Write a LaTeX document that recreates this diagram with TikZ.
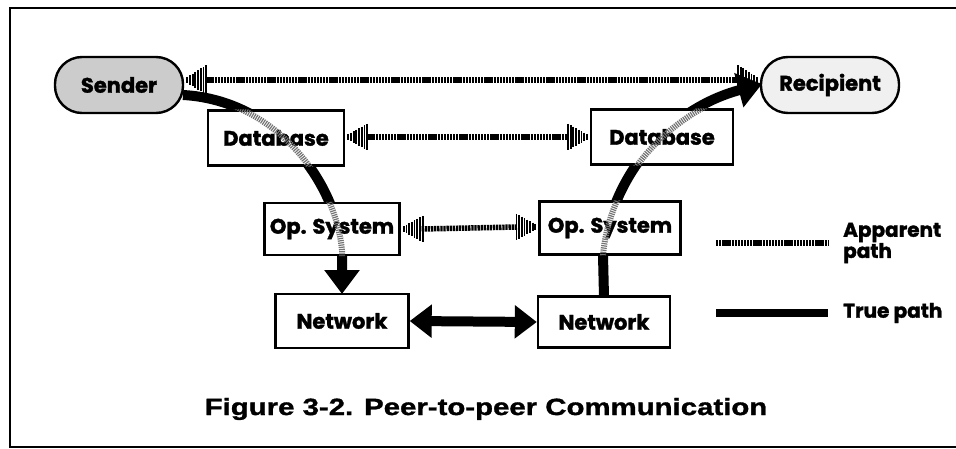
\documentclass[tikz,border=0pt]{standalone}
\usepackage{fontspec}
\usetikzlibrary{arrows.meta,calc}
\newfontfamily\boxfont{Poppins}[BoldFeatures={FakeBold=1.6}]
\newfontfamily\capfont{Liberation Sans}[FakeStretch=1.25, BoldFeatures={FakeBold=1.4}]

\tikzset{
  frame/.style={line width=2.4pt},
  layer/.style={draw, line width=2.4pt, fill=white, inner sep=0pt,
    font=\boxfont\bfseries\fontsize{21}{23}\selectfont},
  endpoint/.style={layer, rounded corners=27pt, minimum height=56pt},
  truepath/.style={line width=10pt, -{Triangle[length=24pt,width=34pt]}},
  truepair/.style={line width=10pt, {Triangle[length=22pt,width=32pt]}-{Triangle[length=22pt,width=32pt]}},
  ghost/.style={line width=6pt, draw=black!55, dash pattern=on 1.2pt off 1pt},
  appline/.style={line width=5.5pt, draw=black, dash pattern=on 2.3pt off 0.8pt},
  apbar/.style={line width=1.8pt, draw=black},
  legendtext/.style={anchor=west, align=left, inner sep=0pt,
    font=\boxfont\bfseries\fontsize{20}{17}\selectfont},
}

% apparent path: dashed shaft with barred heads at both ends
\newcommand\apparentpath[3]{%
  \draw[appline] ($(#1)+(18,0)$) -- ($(#2)+(-18,0)$);
  \foreach \k in {0,...,7}{
    \draw[apbar] ($(#1)+({\k*2.7},{-(3+\k*#3)})$) -- ($(#1)+({\k*2.7},{3+\k*#3})$);
    \draw[apbar] ($(#2)+({-\k*2.7},{-(3+\k*#3)})$) -- ($(#2)+({-\k*2.7},{3+\k*#3})$);
  }}

\begin{document}
\begin{tikzpicture}[x=1pt,y=-1pt]
\useasboundingbox (0,0) rectangle (956,449);

% outer frame (open on the right)
\draw[frame] (956,8) -- (10,8) -- (10,447) -- (956,447);

% node placement
\path
  (119,85)  node[endpoint, fill=black!20, minimum width=128pt] (sender) {Sender}
  (830,85)  node[endpoint, fill=black!6, minimum width=138pt] (recipient) {Recipient}
  (276,138) coordinate (dbLc)
  (662,137) coordinate (dbRc)
  (332,229) coordinate (osLc)
  (610,228) coordinate (osRc)
  (342,321) coordinate (netLc)
  (604,322) coordinate (netRc);

% true path, drawn beneath the layer boxes
\draw[truepath] (183,95) .. controls (275,100) and (335,180) .. (342,250) -- (342,294);
\draw[truepath] (604,297) -- (603,255) .. controls (610,180) and (665,110) .. (762,84);

% layer boxes
\node[layer, minimum width=136pt, minimum height=55pt] (dbL) at (dbLc) {Database};
\node[layer, minimum width=142pt, minimum height=55pt] (dbR) at (dbRc) {Database};
\node[layer, minimum width=135pt, minimum height=52pt] (osL) at (osLc) {Op. System};
\node[layer, minimum width=141pt, minimum height=53pt] (osR) at (osRc) {Op. System};
\node[layer, minimum width=133pt, minimum height=54pt] (netL) at (netLc) {Network};
\node[layer, minimum width=132pt, minimum height=51pt] (netR) at (netRc) {Network};

% true path seen through the upper layers
\begin{scope}
  \clip (dbL.south west) rectangle (dbL.north east)
        (dbR.south west) rectangle (dbR.north east)
        (osL.south west) rectangle (osL.north east)
        (osR.south west) rectangle (osR.north east);
  \draw[ghost] (183,95) .. controls (275,100) and (335,180) .. (342,250) -- (342,294);
  \draw[ghost] (604,297) -- (603,255) .. controls (610,180) and (665,110) .. (762,84);
\end{scope}

% physical link between the two networks
\draw[truepair] (netL.east) -- (netR.west);

% apparent peer-to-peer paths
\coordinate (a1) at ([xshift=3pt,yshift=5pt]sender.east);
\coordinate (a2) at ([xshift=-3pt,yshift=5pt]recipient.west);
\apparentpath{a1}{a2}{1.7}
\coordinate (b1) at ([xshift=3pt,yshift=1pt]dbL.east);
\coordinate (b2) at ([xshift=-3pt]dbR.west);
\apparentpath{b1}{b2}{1.45}
\coordinate (c1) at ([xshift=3pt]osL.east);
\coordinate (c2) at ([xshift=-3pt,yshift=1pt]osR.west);
\apparentpath{c1}{c2}{1.45}

% legend
\coordinate (la1) at (716,243);
\coordinate (la2) at (828,243);
\draw[appline] (la1) -- (la2);
\node[legendtext] (lat) at (843,243) {Apparent\\path};
\coordinate (lt1) at (716,313);
\coordinate (lt2) at (828,313);
\draw[line width=8pt] (lt1) -- (lt2);
\node[legendtext] (ltt) at (843,313) {True path};

% caption
\node[font=\capfont\bfseries\fontsize{23.5}{26}\selectfont, inner sep=0pt] (cap) at (486,409)
  {Figure 3-2. Peer-to-peer Communication};
\end{tikzpicture}
\end{document}
